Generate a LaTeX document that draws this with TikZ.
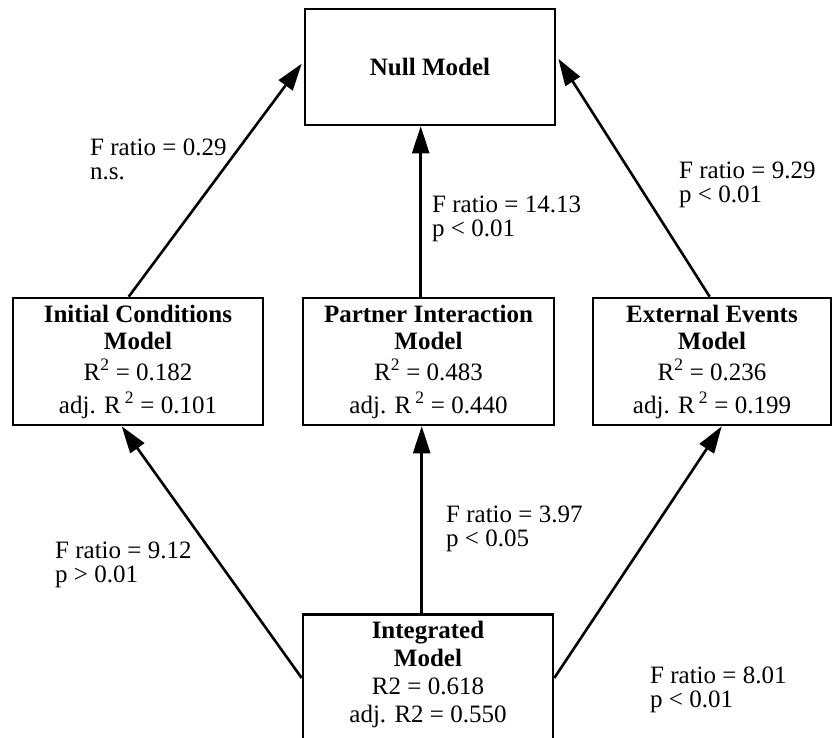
\documentclass[tikz,border=0pt]{standalone}
\usepackage{fontspec}
\setmainfont{Liberation Serif}
\usetikzlibrary{arrows.meta,calc}
\begin{document}
\begin{tikzpicture}[x=1pt,y=-1pt,
  box/.style={draw,line width=2.6pt,rectangle,align=center,inner sep=0pt,font=\fontsize{25}{27}\selectfont},
  txt/.style={align=center,inner sep=0pt,font=\fontsize{25}{28}\selectfont},
  arr/.style={line width=2.6pt,-{Triangle[length=27pt,width=17pt]}},
  lab/.style={anchor=west,align=left,inner sep=0pt,font=\fontsize{25}{24}\selectfont}]
\useasboundingbox (0,0) rectangle (833,738);
\clip (0,0) rectangle (833,738);
% boxes
\node[box,minimum width=250pt,minimum height=116pt] (null) at (430,67) {\textbf{Null Model}};
\node[box,minimum width=250pt,minimum height=127pt] (ini) at (138,361.5)
  {\textbf{Initial Conditions}\\\textbf{Model}\\[4pt]R\textsuperscript{2} = 0.182\\[6pt]adj. R\,\textsuperscript{2} = 0.101};
\node[box,minimum width=251pt,minimum height=127pt] (par) at (428.5,361.5)
  {\textbf{Partner Interaction}\\\textbf{Model}\\[4pt]R\textsuperscript{2} = 0.483\\[6pt]adj. R\,\textsuperscript{2} = 0.440};
\node[box,minimum width=238pt,minimum height=127pt] (ext) at (712,361.5)
  {\textbf{External Events}\\\textbf{Model}\\[4pt]R\textsuperscript{2} = 0.236\\[6pt]adj. R\,\textsuperscript{2} = 0.199};
\node[box,minimum width=250pt,minimum height=140pt,anchor=north] (int) at (428,613) {};
\node[txt,anchor=north] (inttext) at (428,621)
  {\textbf{Integrated}\\\textbf{Model}\\R2 = 0.618\\adj. R2 = 0.550};
% connectors
\draw[arr] ($(int.north west)+(0,65)$) -- ($(ini.south west)+(110,0)$);
\draw[arr] ($(int.north west)+(120,0)$) -- ($(par.south west)+(120,0)$);
\draw[arr] ($(int.north east)+(0,65)$) -- ($(ext.south west)+(130,0)$);
\draw[arr] ($(ini.north west)+(117,0)$) -- ($(null.north west)+(-2,56)$);
\draw[arr] ($(par.north west)+(119,0)$) -- ($(null.south west)+(117,0)$);
\draw[arr] ($(ext.north west)+(118,0)$) -- ($(null.north east)+(2,51)$);
% labels
\node[lab] (l1) at (90,159) {F ratio = 0.29\\n.s.};
\node[lab] (l2) at (432,219) {F ratio = 14.13\\p < 0.01};
\node[lab] (l3) at (679,185) {F ratio = 9.29\\p < 0.01};
\node[lab] (l4) at (55,565) {F ratio = 9.12\\p > 0.01};
\node[lab] (l5) at (446,529) {F ratio = 3.97\\p < 0.05};
\node[lab] (l6) at (650,690) {F ratio = 8.01\\p < 0.01};
\end{tikzpicture}
\end{document}
